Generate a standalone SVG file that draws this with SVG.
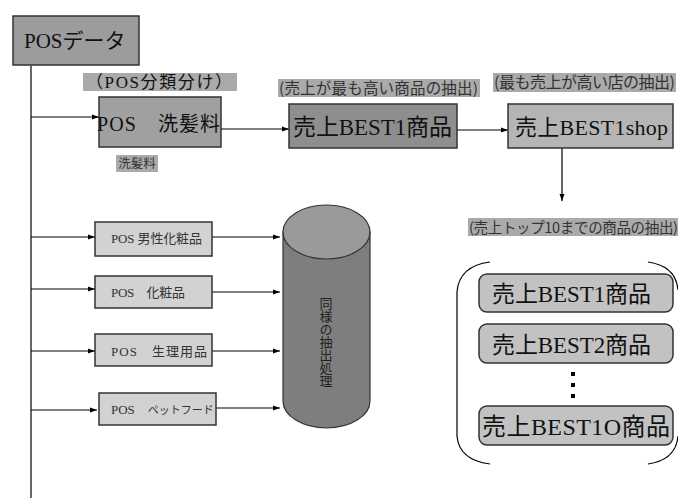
<svg xmlns="http://www.w3.org/2000/svg" width="678" height="503" viewBox="0 0 678 503">
<defs>
<marker id="ah" viewBox="0 0 10 10" refX="10" refY="5" markerWidth="7" markerHeight="7" markerUnits="userSpaceOnUse" orient="auto">
<path d="M0,1.5 L10,5 L0,8.5 z" fill="#000"/>
</marker>
<style>
.ln{stroke:#000;stroke-width:1.2;fill:none}
.box{stroke:#333;stroke-width:1.5}
.big{font-family:"Liberation Serif","Noto Sans CJK JP",serif;fill:#111}
.lbl{font-family:"Noto Sans CJK JP","Liberation Sans",sans-serif;fill:#333}
.sm{font-family:"Liberation Serif","Noto Sans CJK JP",serif;font-size:13px;fill:#333}
.vt{font-family:"Noto Sans CJK JP",sans-serif;font-size:13px;fill:#222;writing-mode:vertical-rl}
.lblbg{fill:#aaaaaa}
</style>
</defs>
<rect width="678" height="503" fill="#fff"/>

<g id="connectors">
<line class="ln" x1="31" y1="66" x2="31" y2="498"/>
<line class="ln" x1="31" y1="117" x2="99" y2="117" marker-end="url(#ah)"/>
<line class="ln" x1="221" y1="129" x2="289" y2="129" marker-end="url(#ah)"/>
<line class="ln" x1="457" y1="130" x2="508" y2="130" marker-end="url(#ah)"/>
<line class="ln" x1="562" y1="148" x2="562" y2="201" marker-end="url(#ah)"/>
<line class="ln" x1="31" y1="237" x2="95" y2="237" marker-end="url(#ah)"/>
<line class="ln" x1="31" y1="289" x2="95" y2="289" marker-end="url(#ah)"/>
<line class="ln" x1="31" y1="351" x2="95" y2="351" marker-end="url(#ah)"/>
<line class="ln" x1="31" y1="410" x2="97" y2="410" marker-end="url(#ah)"/>
<line class="ln" x1="212" y1="237" x2="280" y2="237" marker-end="url(#ah)"/>
<line class="ln" x1="212" y1="292" x2="280" y2="292" marker-end="url(#ah)"/>
<line class="ln" x1="212" y1="351" x2="280" y2="351" marker-end="url(#ah)"/>
<line class="ln" x1="216" y1="408" x2="280" y2="408" marker-end="url(#ah)"/>
</g>

<g id="pos-data">
<rect class="box" x="13" y="16" width="126" height="49" fill="#9c9c9c"/>
<text class="big" x="24" y="48" font-size="21">POSデータ</text>
</g>

<g id="label-bunrui">
<rect class="lblbg" x="83" y="73" width="154" height="18"/>
<text class="big" x="86" y="88" font-size="17" fill="#333" textLength="146">（POS分類分け）</text>
</g>

<g id="pos-senpatsu">
<rect class="box" x="99" y="97" width="122" height="50" fill="#a0a0a0"/>
<text class="big" x="97" y="131" font-size="20" textLength="123">POS　洗髪料</text>
</g>

<g id="label-senpatsu">
<rect class="lblbg" x="116" y="155" width="42" height="17"/>
<text class="lbl" x="137" y="168" font-size="12.5" text-anchor="middle">洗髪料</text>
</g>

<g id="label-best-item">
<rect class="lblbg" x="278" y="79" width="202" height="18"/>
<text class="lbl" x="279" y="94" font-size="15.5" textLength="199">(売上が最も高い商品の抽出)</text>
</g>

<g id="best1-item">
<rect class="box" x="289" y="104" width="168" height="44" fill="#8e8e8e"/>
<text class="big" x="293" y="135" font-size="23" textLength="159">売上BEST1商品</text>
</g>

<g id="label-best-shop">
<rect class="lblbg" x="493" y="73" width="183" height="19" fill="#b0b0b0"/>
<text class="lbl" x="494" y="88" font-size="16" textLength="181">(最も売上が高い店の抽出)</text>
</g>

<g id="best1-shop">
<rect class="box" x="508" y="104" width="165" height="44" fill="#b5b5b5"/>
<text class="big" x="515" y="135" font-size="22" textLength="153">売上BEST1shop</text>
</g>

<g id="label-top10">
<rect class="lblbg" x="468" y="218" width="210" height="18" fill="#b0b0b0"/>
<text class="lbl" x="469" y="233" font-size="14.5" textLength="209">(売上トップ10までの商品の抽出)</text>
</g>

<g id="pos-mens">
<rect class="box" x="95" y="222" width="117" height="34" fill="#d2d2d2"/>
<text class="sm" x="111" y="243" textLength="91">POS 男性化粧品</text>
</g>

<g id="pos-cosme">
<rect class="box" x="95" y="276" width="117" height="32" fill="#d2d2d2"/>
<text class="sm" x="111" y="297" textLength="74">POS　化粧品</text>
</g>

<g id="pos-seiri">
<rect class="box" x="95" y="334" width="117" height="32" fill="#d2d2d2"/>
<text class="sm" x="111" y="356" font-size="14" textLength="96">POS　生理用品</text>
</g>

<g id="pos-pet">
<rect class="box" x="99" y="393" width="117" height="32" fill="#d2d2d2"/>
<text class="sm" x="111" y="414">POS　<tspan font-size="11">ペットフード</tspan></text>
</g>

<g id="cylinder">
<path d="M283,232 L283,401 A43.5,27 0 0 0 370,401 L370,232 Z" fill="#7e7e7e" stroke="#333" stroke-width="1.2"/>
<ellipse cx="326.5" cy="232" rx="43.5" ry="27" fill="#9a9a9a" stroke="#333" stroke-width="1.2"/>
<text class="vt" x="326" y="297">同様の抽出処理</text>
</g>

<g id="bracket">
<path class="ln" d="M490,262 Q459,266 457,292 L457,436 Q459,460 490,464" stroke="#444" stroke-width="1.3"/>
<path class="ln" d="M648,262 Q676,266 678,290" stroke="#444" stroke-width="1.3"/>
<path class="ln" d="M648,464 Q676,460 678,436" stroke="#444" stroke-width="1.3"/>
</g>

<g id="rank1">
<rect class="box" x="479" y="274" width="194" height="38" rx="8" fill="#c2c2c2"/>
<text class="big" x="492" y="302" font-size="23" textLength="159">売上BEST1商品</text>
</g>

<g id="rank2">
<rect class="box" x="479" y="324" width="194" height="39" rx="8" fill="#c2c2c2"/>
<text class="big" x="492" y="353" font-size="23" textLength="159">売上BEST2商品</text>
</g>

<g id="dots">
<rect x="571" y="372" width="4" height="4" fill="#000"/>
<rect x="571" y="383" width="4" height="4" fill="#000"/>
<rect x="571" y="394" width="4" height="4" fill="#000"/>
</g>

<g id="rank10">
<rect class="box" x="479" y="406" width="194" height="39" rx="8" fill="#c2c2c2"/>
<text class="big" x="482" y="435" font-size="24" textLength="188">売上BEST1O商品</text>
</g>
</svg>
